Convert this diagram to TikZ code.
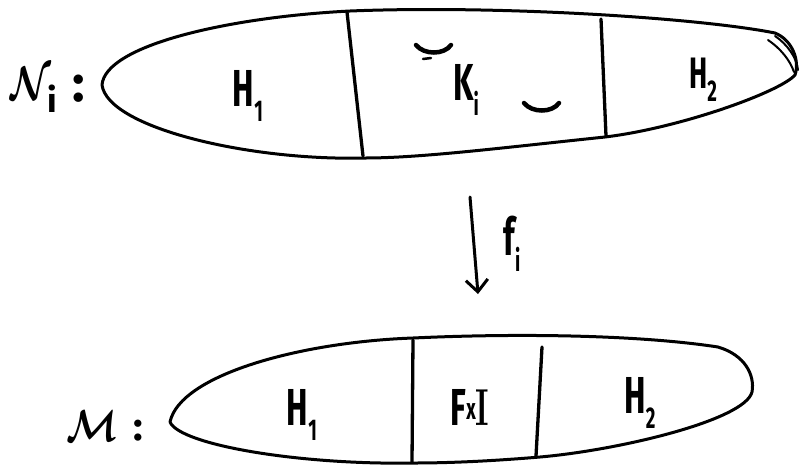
\documentclass[tikz,border=0pt]{standalone}
\usepackage{fontspec}
\usepackage{graphicx}
\setsansfont{Fira Sans}
\usetikzlibrary{arrows.meta}
\newcommand{\narrowtxt}[1]{\scalebox{0.62}[1]{#1}}
\newcommand{\sub}[2]{#1\raisebox{-0.3em}{\fontsize{30}{30}\selectfont #2}}
\begin{document}
\begin{tikzpicture}[x=1pt,y=-1pt,
  outline/.style={line width=3pt, line join=round, line cap=round},
  divider/.style={line width=3.3pt, line cap=round},
  lab/.style={font=\fontsize{52}{52}\sffamily\bfseries, inner sep=0pt},
  smalllab/.style={font=\fontsize{44}{44}\sffamily\bfseries, inner sep=0pt},
  callab/.style={font=\fontsize{52}{52}\sffamily\bfseries, inner sep=0pt},
  smilemark/.style={line width=4.5pt, line cap=round},
  maparrow/.style={line width=3pt, line cap=round, -{Straight Barb[length=12pt,width=22pt,line width=3pt]}}]
\useasboundingbox (0,0) rectangle (800,467);
% top shape N_i
\draw[outline] (102,85) .. controls (105,45) and (230,17) .. (350,11)
  .. controls (500,5) and (700,18) .. (775,33)
  .. controls (792,40) and (800,60) .. (795,75)
  .. controls (780,92) and (680,128) .. (605,137)
  .. controls (500,148) and (420,158) .. (365,158)
  .. controls (250,161) and (108,128) .. (102,85);
\draw[outline, line width=2pt] (768,40) .. controls (780,48) and (790,60) .. (794,72);
\draw[outline, line width=2pt] (775,36) .. controls (787,44) and (797,58) .. (798,70);
\coordinate (d1a) at (347,12); \coordinate (d1b) at (363,156);
\coordinate (d2a) at (601,19); \coordinate (d2b) at (606,136);
\draw[divider] (d1a) -- (d1b);
\draw[divider] (d2a) -- (d2b);
\node[lab] (H1top) at (248,96) {\narrowtxt{\sub{H}{1}}};
\node[lab] (Ki) at (466,90) {\narrowtxt{\sub{K}{i}}};
\node[smalllab] (H2top) at (703,80) {\narrowtxt{\sub{H}{2}}};
\draw[smilemark] (416,45) .. controls (424,55) and (444,55) .. (451,45);
\draw[line width=2.5pt, line cap=round] (423,59) -- (431,58);
\draw[smilemark] (524,103) .. controls (532,113) and (552,113) .. (559,103);
\node[callab, anchor=west] (Nlab) at (10,90) {\scalebox{1.5}[1.9]{\boldmath$\mathcal{N}$}\hspace{-3pt}\raisebox{-0.25em}{\fontsize{34}{34}\selectfont i}};
\node[callab] (Ncolon) at (79,89) {:};
% arrow f_i
\coordinate (fs) at (470,197);
\coordinate (fe) at (478,294);
\draw[maparrow] (fs) -- (fe);
\node[lab] (fi) at (512,244) {\narrowtxt{\sub{f}{i}}};
% bottom shape M
\draw[outline] (170,422) .. controls (180,375) and (300,342) .. (413,338)
  .. controls (520,333) and (640,335) .. (718,347)
  .. controls (745,355) and (755,375) .. (752,392)
  .. controls (745,420) and (620,450) .. (540,457)
  .. controls (480,462) and (440,463) .. (413,463)
  .. controls (300,465) and (180,445) .. (170,422);
\coordinate (d3a) at (413,340); \coordinate (d3b) at (412,462);
\coordinate (d4a) at (542,347); \coordinate (d4b) at (536,456);
\draw[divider] (d3a) -- (d3b);
\draw[divider] (d4a) -- (d4b);
\node[lab] (H1bot) at (302,415) {\narrowtxt{\sub{H}{1}}};
\node[lab] (FxI) at (470,407) {\narrowtxt{F\raisebox{0.1em}{\fontsize{30}{30}\selectfont x}{\rmfamily\bfseries I}}};
\node[lab] (H2bot) at (640,403) {\narrowtxt{\sub{H}{2}}};
\node[callab, anchor=west] (Mlab) at (66,426) {\scalebox{1.5}[1.8]{\boldmath$\mathcal{M}$}};
\node[callab, font=\fontsize{40}{40}\sffamily\bfseries] (Mcolon) at (138,431) {:};
\end{tikzpicture}
\end{document}
